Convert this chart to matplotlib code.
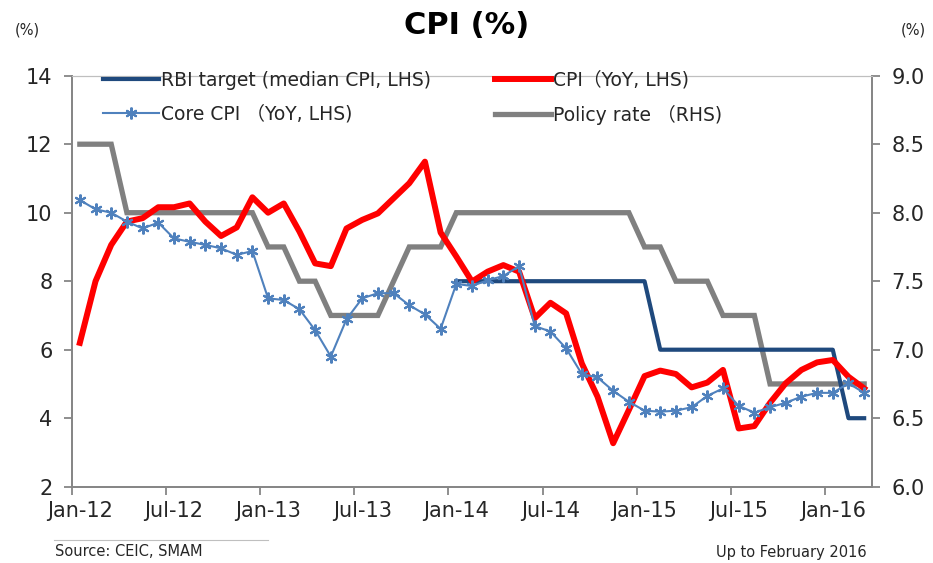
import matplotlib
matplotlib.use("Agg")
import matplotlib.pyplot as plt
from matplotlib.lines import Line2D
import numpy as np

plt.rcParams['font.family'] = ['DejaVu Sans', 'Noto Sans CJK JP']

# monthly, Jan-12 .. Mar-16 (51 points)
months = ['Jan-12', 'Jul-12', 'Jan-13', 'Jul-13', 'Jan-14', 'Jul-14', 'Jan-15', 'Jul-15', 'Jan-16']

cpi = [6.2, 8.0, 9.06, 9.74, 9.84, 10.16, 10.16, 10.27, 9.74, 9.32,
       9.57, 10.45, 10.0, 10.27, 9.45, 8.52, 8.44, 9.54, 9.79, 9.98,
       10.42, 10.86, 11.49, 9.42, 8.72, 7.99, 8.28, 8.47, 8.28, 6.92,
       7.37, 7.06, 5.60, 4.63, 3.27, 4.24, 5.23, 5.39, 5.29, 4.90,
       5.04, 5.41, 3.70, 3.77, 4.45, 5.02, 5.41, 5.63, 5.70, 5.21, 4.87]

core_cpi = [10.37, 10.10, 10.0, 9.74, 9.54, 9.71, 9.25, 9.15, 9.06, 8.96,
            8.77, 8.88, 7.50, 7.45, 7.18, 6.57, 5.80, 6.89, 7.50, 7.65,
            7.65, 7.30, 7.03, 6.61, 7.92, 7.86, 8.03, 8.15, 8.44, 6.69,
            6.53, 6.04, 5.29, 5.19, 4.80, 4.48, 4.22, 4.19, 4.22, 4.32,
            4.65, 4.87, 4.36, 4.16, 4.32, 4.45, 4.63, 4.74, 4.74, 5.02, 4.74]

# RBI glide path, from Jan-14 (index 24)
rbi_target = [8.0] * 13 + [6.0] * 12 + [4.0] * 2

policy_rate = [8.5] * 3 + [8.0] * 9 + [7.75] * 2 + [7.5] * 2 + [7.25] * 4 \
    + [7.5] + [7.75] * 3 + [8.0] * 12 + [7.75] * 2 + [7.5] * 3 + [7.25] * 3 + [6.75] * 7

x = np.arange(len(cpi))
x_rbi = np.arange(24, 24 + len(rbi_target))

fig = plt.figure(figsize=(9.33, 5.63), dpi=100)
ax = fig.add_axes([72/933, 1 - 486.7/563, 800/933, 411/563])
ax2 = ax.twinx()
ax.set_zorder(ax2.get_zorder() + 1)
ax.patch.set_visible(False)

l_pol, = ax2.plot(x, policy_rate, color='#808080', lw=3.8, solid_joinstyle='miter')
l_rbi, = ax.plot(x_rbi, rbi_target, color='#1F497D', lw=3.0)
l_cpi, = ax.plot(x, cpi, color='#FF0000', lw=4.3)
l_core, = ax.plot(x, core_cpi, color='#4F81BD', lw=1.5, marker=(6, 2, 0),
                  markersize=8.5, markeredgewidth=1.5)

ax.set_xlim(-0.5, 50.5)
ax.set_ylim(2, 14)
ax2.set_ylim(6, 9)
ax.set_yticks(np.arange(2, 15, 2))
ax2.set_yticks(np.arange(6, 9.01, 0.5))
ax2.set_yticklabels(['%.1f' % v for v in np.arange(6, 9.01, 0.5)])

ax.set_xticks(np.arange(0, 49, 6) - 0.5)
ax.set_xticklabels([])
ax.set_xticks(np.arange(0, 49, 6), minor=True)
ax.set_xticklabels(months, minor=True)
ax.tick_params(axis='x', which='major', direction='out', length=6, width=1.3, color='#868686')
ax.tick_params(axis='x', which='minor', length=0, pad=10, labelsize=15, labelcolor='#262626')
ax.tick_params(axis='y', direction='out', length=6, width=1.3, color='#868686',
               labelsize=15, labelcolor='#262626', pad=8)
ax2.tick_params(axis='y', direction='out', length=6, width=1.3, color='#868686',
                labelsize=15, labelcolor='#262626', pad=8)

for a in (ax, ax2):
    for s in ('left', 'right', 'bottom'):
        a.spines[s].set_color('#868686')
        a.spines[s].set_linewidth(1.3)
    a.spines['top'].set_color('#BFBFBF')
    a.spines['top'].set_linewidth(0.8)

leg = fig.legend([l_rbi, l_core, l_cpi, l_pol],
                 ['RBI target (median CPI, LHS)', 'Core CPI （YoY, LHS)',
                  'CPI（YoY, LHS)', 'Policy rate （RHS)'],
                 ncol=2, loc='upper left', bbox_to_anchor=(103/933, 1 - 71/563),
                 frameon=False, fontsize=13.5, handlelength=3.0, handletextpad=0.1,
                 labelspacing=0.8, columnspacing=3.4, borderpad=0, borderaxespad=0)
for t in leg.get_texts():
    t.set_color('#262626')

fig.text(467/933, 1 - 25/563, 'CPI (%)', ha='center', va='center',
         fontsize=22, fontweight='bold', color='black')
fig.text(27/933, 1 - 30/563, '(%)', ha='center', va='center', fontsize=10.5, color='#262626')
fig.text(913/933, 1 - 30/563, '(%)', ha='center', va='center', fontsize=10.5, color='#262626')

fig.add_artist(Line2D([54/933, 268/933], [1 - 540/563, 1 - 540/563],
                      color='#BFBFBF', lw=0.8))
fig.text(55/933, 1 - 552/563, 'Source: CEIC, SMAM', ha='left', va='center',
         fontsize=10.5, color='#262626')
fig.text(867/933, 1 - 552/563, 'Up to February 2016', ha='right', va='center',
         fontsize=10.5, color='#262626')

fig.savefig('out.png', dpi=100)
